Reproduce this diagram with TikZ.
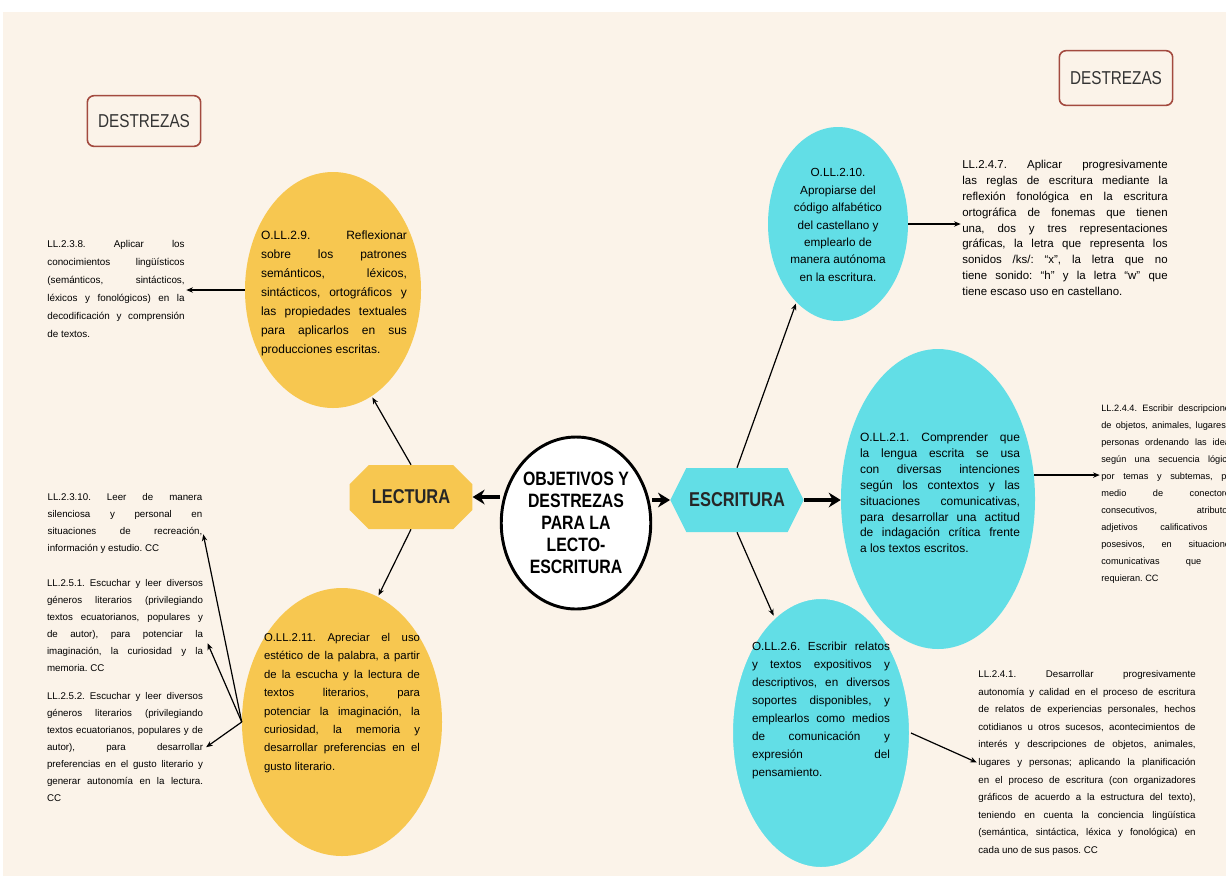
\documentclass[tikz,border=0pt]{standalone}
\usepackage{fontspec}
\setmainfont{Liberation Sans}
\newfontfamily\headfont[FakeStretch=0.82]{Liberation Sans}
\usetikzlibrary{shapes.geometric,shapes.misc,shapes.symbols,arrows.meta}
\definecolor{cream}{HTML}{FBF3E9}
\definecolor{gold}{HTML}{F7C750}
\definecolor{aqua}{HTML}{62DEE6}
\definecolor{brick}{HTML}{A34A3F}
\newcommand{\txtsize}[2]{\fontsize{#1}{#2}\selectfont}
\tolerance=10000 \hbadness=10000 \hyphenpenalty=10000 \frenchspacing

\begin{document}
\begin{tikzpicture}[x=0.75pt,y=-0.75pt,>={Stealth[length=5pt,width=4pt]},
    bubble/.style={ellipse,inner sep=0pt},
    para/.style={inner sep=0pt,align=justify,text width=#1},
    tagbox/.style={draw=brick,line width=1.2pt,rounded corners=5pt,minimum width=85pt,minimum height=38pt,font=\headfont\txtsize{14}{14},text=black!80},
    thin arrow/.style={->,line width=0.9pt,shorten >=1pt},
    thick arrow/.style={-{Stealth[length=9pt,width=11pt]},line width=2.6pt}]

  % background
  \useasboundingbox (0,0) rectangle (1226,876);
  \clip (0,0) rectangle (1226,876);
  \fill[white] (0,0) rectangle (1226,876);
  \fill[cream] (3,12) rectangle (1226,876);

  % headings
  \node[tagbox] (destL) at (144,121) {DESTREZAS};
  \node[tagbox,minimum height=41pt] (destR) at (1116,78) {DESTREZAS};

  % centre and the two branches
  \node[bubble,draw,line width=2.2pt,fill=white,minimum width=99pt,minimum height=129pt,align=center,font=\headfont\bfseries\txtsize{14.5}{16.5}] (main) at (576,523) {OBJETIVOS Y\\DESTREZAS\\PARA LA\\LECTO-\\ESCRITURA};
  \node[chamfered rectangle,chamfered rectangle sep=9pt,fill=gold,inner sep=0pt,minimum width=92pt,minimum height=48pt,font=\headfont\bfseries\txtsize{15}{15},text=black!85] (lect) at (411,497) {LECTURA};
  \node[signal,signal to=east and west,signal pointer angle=127,fill=aqua,inner sep=0pt,minimum width=100pt,minimum height=48pt,font=\headfont\bfseries\txtsize{15}{15},text=black!85] (escr) at (737,500) {ESCRITURA};

  % objectives
  \node[bubble,fill=gold,minimum width=132pt,minimum height=177pt] (y29) at (333,290) {};
  \node[bubble,fill=gold,minimum width=150pt,minimum height=201pt] (y211) at (342,722) {};
  \node[bubble,fill=aqua,minimum width=105pt,minimum height=145.5pt] (c210) at (838,224) {};
  \node[bubble,fill=aqua,minimum width=145.5pt,minimum height=225pt] (c21) at (938,499) {};
  \node[bubble,fill=aqua,draw=cream,line width=1.5pt,minimum width=133.5pt,minimum height=202.5pt] (c26) at (821,733) {};

  \node[para=109.5pt,font=\txtsize{9}{14.25}] (t29) at (334,293) {O.LL.2.9. Reflexionar\linebreak sobre los patrones\linebreak semánticos, léxicos,\linebreak sintácticos, ortográficos y\linebreak las propiedades textuales\linebreak para aplicarlos en sus\linebreak producciones escritas.};
  \node[para=117pt,font=\txtsize{8.5}{13.8}] (t211) at (342,703) {O.LL.2.11. Apreciar el uso\linebreak estético de la palabra, a partir\linebreak de la escucha y la lectura de\linebreak textos literarios, para\linebreak potenciar la imaginación, la\linebreak curiosidad, la memoria y\linebreak desarrollar preferencias en el\linebreak gusto literario.};
  \node[inner sep=0pt,align=center,font=\txtsize{8.8}{13.1}] (t210) at (838,225) {O.LL.2.10.\\Apropiarse del\\código alfabético\\del castellano y\\emplearlo de\\manera autónoma\\en la escritura.};
  \node[para=120pt,font=\txtsize{9}{11.9}] (t21) at (940,493) {O.LL.2.1. Comprender que\linebreak la lengua escrita se usa\linebreak con diversas intenciones\linebreak según los contextos y las\linebreak situaciones comunicativas,\linebreak para desarrollar una actitud\linebreak de indagación crítica frente\linebreak a los textos escritos.};
  \node[para=103.5pt,font=\txtsize{8.8}{13.5}] (t26) at (821,710) {O.LL.2.6. Escribir relatos\linebreak y textos expositivos y\linebreak descriptivos, en diversos\linebreak soportes disponibles, y\linebreak emplearlos como medios\linebreak de comunicación y\linebreak expresión del\linebreak pensamiento.};

  % skills, left
  \node[para=103pt,font=\txtsize{7.4}{13.5}] (t238) at (116,289) {LL.2.3.8. Aplicar los\linebreak conocimientos lingüísticos\linebreak (semánticos, sintácticos,\linebreak léxicos y fonológicos) en la\linebreak decodificación y comprensión\linebreak de textos.};
  \node[para=116pt,font=\txtsize{7.3}{12.75}] (t2310) at (125,523) {LL.2.3.10. Leer de manera\linebreak silenciosa y personal en\linebreak situaciones de recreación,\linebreak información y estudio. CC};
  \node[para=117pt,font=\txtsize{7.3}{12.75}] (t251) at (125,626) {LL.2.5.1. Escuchar y leer diversos\linebreak géneros literarios (privilegiando\linebreak textos ecuatorianos, populares y\linebreak de autor), para potenciar la\linebreak imaginación, la curiosidad y la\linebreak memoria. CC};
  \node[para=117pt,font=\txtsize{7.3}{12.75}] (t252) at (125,747) {LL.2.5.2. Escuchar y leer diversos\linebreak géneros literarios (privilegiando\linebreak textos ecuatorianos, populares y de\linebreak autor), para desarrollar\linebreak preferencias en el gusto literario y\linebreak generar autonomía en la lectura.\linebreak CC};

  % skills, right
  \node[para=154pt,font=\txtsize{8.6}{11.9}] (t247) at (1065,228) {LL.2.4.7. Aplicar progresivamente\linebreak las reglas de escritura mediante la\linebreak reflexión fonológica en la escritura\linebreak ortográfica de fonemas que tienen\linebreak una, dos y tres representaciones\linebreak gráficas, la letra que representa los\linebreak sonidos /ks/: “x”, la letra que no\linebreak tiene sonido: “h” y la letra “w” que\linebreak tiene escaso uso en castellano.};
  \node[para=100pt,font=\txtsize{6.9}{12.8}] (t244) at (1168,494) {LL.2.4.4. Escribir descripciones\linebreak de objetos, animales, lugares y\linebreak personas ordenando las ideas\linebreak según una secuencia lógica,\linebreak por temas y subtemas, por\linebreak medio de conectores\linebreak consecutivos, atributos,\linebreak adjetivos calificativos y\linebreak posesivos, en situaciones\linebreak comunicativas que lo\linebreak requieran. CC};
  \node[para=163pt,font=\txtsize{7.3}{13.2}] (t241) at (1087,763) {LL.2.4.1. Desarrollar progresivamente\linebreak autonomía y calidad en el proceso de escritura\linebreak de relatos de experiencias personales, hechos\linebreak cotidianos u otros sucesos, acontecimientos de\linebreak interés y descripciones de objetos, animales,\linebreak lugares y personas; aplicando la planificación\linebreak en el proceso de escritura (con organizadores\linebreak gráficos de acuerdo a la estructura del texto),\linebreak teniendo en cuenta la conciencia lingüística\linebreak (semántica, sintáctica, léxica y fonológica) en\linebreak cada uno de sus pasos. CC};

  % arrows
  \coordinate (e2310) at (203,533);
  \coordinate (e251) at (207,642);
  \coordinate (e252) at (205,748);
  \draw[thick arrow] (lect.east -| main.west) -- (lect.east);
  \draw[thick arrow] (escr.west -| main.east) -- (escr.west);
  \draw[thick arrow] (escr.east) -- (escr.east -| c21.west);
  \draw[thin arrow] (lect.north) -- (y29.-70);
  \draw[thin arrow] (lect.south) -- (y211.74);
  \draw[thin arrow] (y29.west) -- (y29.west -| t238.east);
  \foreach \e in {e2310,e251,e252} \draw[thin arrow] (y211.west) -- (\e);
  \draw[thin arrow] (escr.north) -- (c210.-118);
  \draw[thin arrow] (escr.south) -- (c26.112);
  \draw[thin arrow] (c210.east) -- (c210.east -| t247.west);
  \draw[thin arrow] (c21.14) -- (c21.14 -| t244.west);
  \draw[thin arrow] (c26.east) -- (t241.west);
\end{tikzpicture}
\end{document}
